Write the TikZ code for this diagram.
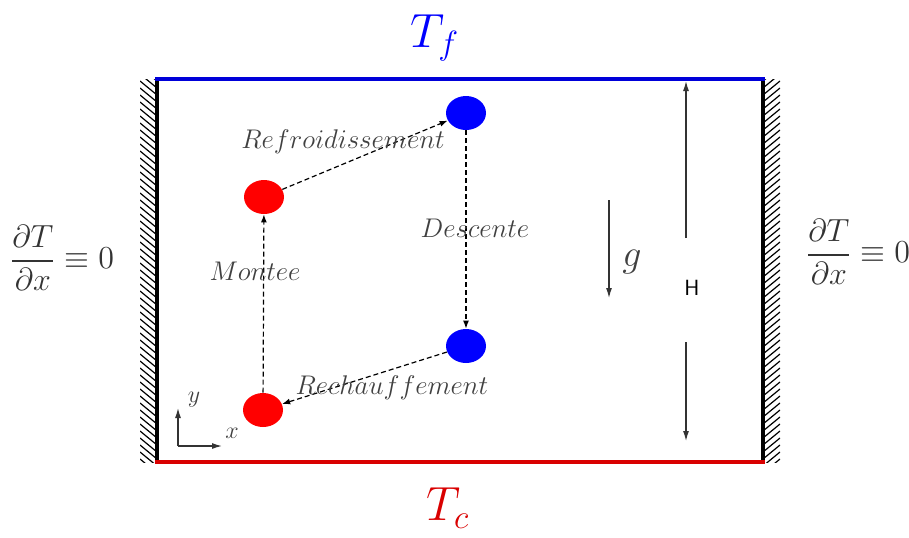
\RequirePackage{fix-cm}
\documentclass[tikz,border=0pt]{standalone}
\usepackage{amsmath}
\usepackage{tikz}
\usetikzlibrary{
	shapes.geometric,           % For the ellipse particles
	arrows.meta                 % For Latex arrows
}
\tikzset{
	chaud/.style={
		ellipse,
		fill=red,
		minimum width=20pt,
		minimum height=17pt,
		inner sep=0pt
	},
	froid/.style={
		ellipse,
		fill=blue,
		minimum width=20pt,
		minimum height=17pt,
		inner sep=0pt
	},
	flux/.style={
		-{Latex[length=4pt,width=3pt]},
		dash pattern=on 2.5pt off 1.5pt,
		semithick
	},
	fleche/.style={
		-{Latex[length=5pt,width=3pt]},
		semithick,
		black!80
	},
	etiq/.style={
		font=\fontsize{13.5}{16}\selectfont,
		text=black!75,
		inner sep=1pt
	},
	paroi/.style={
		line width=1.6pt
	}
}

\begin{document}
\begin{tikzpicture}[x=0.5pt, y=-0.5pt]
		\clip (0,0) rectangle (909,537);
		
		% Hatched side walls
		\begin{scope}
			\clip (140,79) rectangle (157,462);
			\foreach \y in {60,67,...,462}
				\draw[line width=0.6pt] (140,\y) -- (157,\y+14);
		\end{scope}
		\begin{scope}
			\clip (763,79) rectangle (780,462);
			\foreach \y in {60,67,...,468}
				\draw[line width=0.6pt] (763,\y+14) -- (780,\y);
		\end{scope}
		
		% Cavity
		\draw[paroi] (157,79) -- (157,462);
		\draw[paroi] (763,79) -- (763,462);
		\draw[paroi, blue!85!black] (155,79) -- (765,79);
		\draw[paroi, red!85!black] (155,462) -- (765,462);
		
		% Boundary conditions
		\node[text=blue, font=\fontsize{24}{28}\selectfont] (tf) at (435,38) {$T_f$};
		\node[text=red!85!black, font=\fontsize{24}{28}\selectfont] (tc) at (448,508) {$T_c$};
		\node[font=\fontsize{16}{19}\selectfont, text=black!80] (cgauche) at (62,258) {$\dfrac{\partial T}{\partial x}\equiv 0$};
		\node[font=\fontsize{16}{19}\selectfont, text=black!80] (cdroite) at (858,252) {$\dfrac{\partial T}{\partial x}\equiv 0$};
		
		% Particles
		\node[chaud] (rougeH) at (264,197) {};
		\node[froid] (bleuH) at (466,113) {};
		\node[froid] (bleuB) at (466,346) {};
		\node[chaud] (rougeB) at (263,410) {};
		
		% Cycle
		\draw[flux] (rougeH) -- (bleuH);
		\draw[flux] (bleuH) -- (bleuB);
		\draw[flux] (bleuB) -- (rougeB);
		\draw[flux] (rougeB) -- (rougeH);
		
		\node[etiq] (refr) at (343,142) {$Refroidissement$};
		\node[etiq] (desc) at (475,228) {$Descente$};
		\node[etiq] (rech) at (392,388) {$Rechauffement$};
		\node[etiq] (mont) at (255,271) {$Montee$};
		
		% Gravity
		\coordinate (ghaut) at (609,200);
		\coordinate (gbas) at (609,298);
		\draw[fleche] (ghaut) -- (gbas);
		\node[font=\fontsize{19}{22}\selectfont, text=black!75] (glab) at (632,262) {$g$};
		
		% Height
		\node[font=\sffamily\fontsize{11}{13}\selectfont] (hlab) at (692,288) {H};
		\coordinate (hhaut) at (686,81);
		\coordinate (hbas) at (686,441);
		\draw[fleche] (686,238) -- (hhaut);
		\draw[fleche] (686,342) -- (hbas);
		
		% Axes
		\coordinate (orig) at (178,446);
		\coordinate (yaxe) at (178,408);
		\coordinate (xaxe) at (222,446);
		\draw[fleche] (orig) -- (yaxe);
		\draw[fleche] (orig) -- (xaxe);
		\node[font=\fontsize{12}{14}\selectfont, text=black!75] (ylab) at (194,400) {$y$};
		\node[font=\fontsize{12}{14}\selectfont, text=black!75] (xlab) at (232,433) {$x$};
	\end{tikzpicture}
\end{document}
